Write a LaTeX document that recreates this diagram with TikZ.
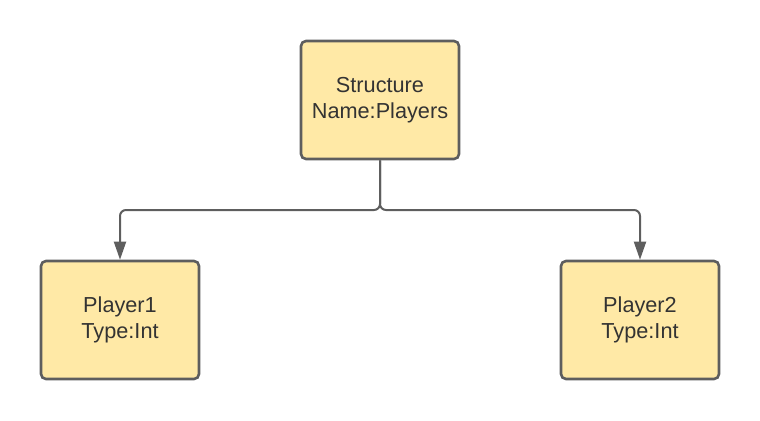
\documentclass[tikz,border=0pt]{standalone}
\usepackage{fontspec}
\setmainfont{Liberation Sans}
\usetikzlibrary{arrows.meta}
\definecolor{boxfill}{HTML}{FFE9A6}
\definecolor{boxline}{HTML}{5E5E5E}
\definecolor{txt}{HTML}{333333}
\begin{document}
\begin{tikzpicture}[x=1bp,y=-1bp,
  box/.style={draw=boxline,line width=2.6bp,fill=boxfill,rounded corners=5bp,
    minimum width=158bp,minimum height=118bp,inner sep=0pt,align=center,
    text=txt,font=\fontsize{21.7bp}{26.5bp}\selectfont},
  conn/.style={draw=boxline,line width=2bp,rounded corners=6bp,
    -{Triangle[length=18bp,width=12bp]}}]
\useasboundingbox (0,0) rectangle (760,420);
\node[box] (s) at (380,100) {Structure\\Name:Players};
\node[box] (p1) at (120,320) {Player1\\Type:Int};
\node[box] (p2) at (640,320) {Player2\\Type:Int};
\coordinate (j) at (380,210);
\draw[conn] (s.south) -- (j) -| (p1.north);
\draw[conn] (s.south) -- (j) -| (p2.north);
\end{tikzpicture}
\end{document}
